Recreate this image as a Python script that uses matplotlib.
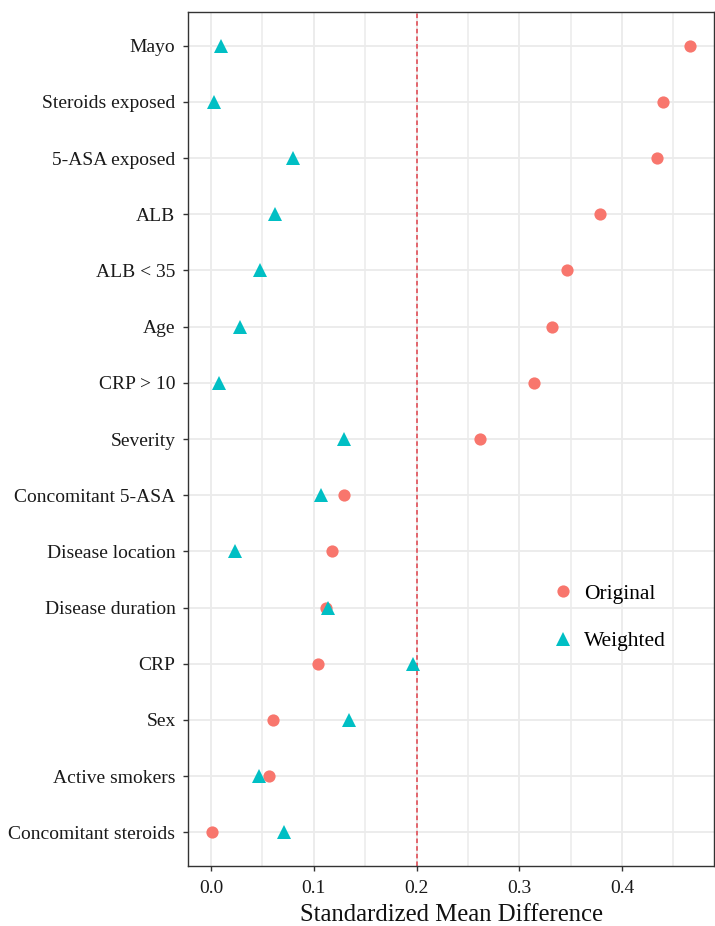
import matplotlib
matplotlib.use("Agg")
import matplotlib.pyplot as plt
from matplotlib.ticker import MultipleLocator

plt.rcParams['font.family'] = ['Liberation Serif', 'DejaVu Serif']

# Covariates, top to bottom
covariates = [
    "Mayo", "Steroids exposed", "5-ASA exposed", "ALB", "ALB < 35", "Age",
    "CRP > 10", "Severity", "Concomitant 5-ASA", "Disease location",
    "Disease duration", "CRP", "Sex", "Active smokers", "Concomitant steroids",
]

# Standardized mean differences before weighting
smd_original = [0.466, 0.440, 0.434, 0.379, 0.346, 0.332, 0.314, 0.262,
                0.129, 0.118, 0.112, 0.104, 0.060, 0.056, 0.001]

# Standardized mean differences after weighting
smd_weighted = [0.010, 0.0025, 0.080, 0.062, 0.048, 0.0285, 0.0074, 0.129,
                0.107, 0.0236, 0.114, 0.1965, 0.134, 0.047, 0.0707]

threshold = 0.2
x_ticks = [0.0, 0.1, 0.2, 0.3, 0.4]
x_tick_labels = ["0.0", "0.1", "0.2", "0.3", "0.4"]

fig = plt.figure(figsize=(7.15, 9.26), dpi=100)
ax = fig.add_axes([188 / 715, 1 - 866 / 926, (714 - 188) / 715, (866 - 12) / 926])

n = len(covariates)
ypos = [n - 1 - i for i in range(n)]

ax.set_xlim(-0.0225, 0.4895)
ax.set_ylim(-0.6, n - 1 + 0.6)

# grid
ax.xaxis.set_minor_locator(MultipleLocator(0.05))
ax.set_xticks(x_ticks)
ax.set_xticklabels(x_tick_labels)
ax.set_yticks(ypos)
ax.set_yticklabels(covariates)
ax.grid(True, which='major', color='#ebebeb', linewidth=1.3, zorder=0)
ax.grid(True, which='minor', axis='x', color='#ebebeb', linewidth=1.1, zorder=0)
ax.set_axisbelow(True)

ax.axvline(threshold, color='#e0404a', linestyle=(0, (3, 2)), linewidth=1.1, zorder=1)

ax.plot(smd_original, ypos, linestyle='none', marker='o', markersize=8.8,
        color='#F8766D', markeredgewidth=0, label='Original', zorder=3)
ax.plot(smd_weighted, ypos, linestyle='none', marker='^', markersize=10.5,
        color='#00BFC4', markeredgewidth=0, label='Weighted', zorder=3)

for s in ax.spines.values():
    s.set_color('#333333')
    s.set_linewidth(1.0)

ax.tick_params(axis='both', which='major', length=3.5, width=1.0, color='#333333',
               labelsize=14, labelcolor='#1a1a1a')
ax.tick_params(axis='y', which='major', pad=5.5)
ax.tick_params(axis='x', which='major', pad=6.5)
ax.tick_params(axis='x', which='minor', length=0)

ax.set_xlabel("Standardized Mean Difference", fontsize=17.8, color='#111111', labelpad=5)

leg = ax.legend(loc='center left', bbox_to_anchor=(0.682, 0.291), frameon=False,
                fontsize=15.5, handletextpad=0.25, labelspacing=1.27,
                handlelength=1.5, borderaxespad=0, borderpad=0)

fig.savefig("out.png", dpi=100)
